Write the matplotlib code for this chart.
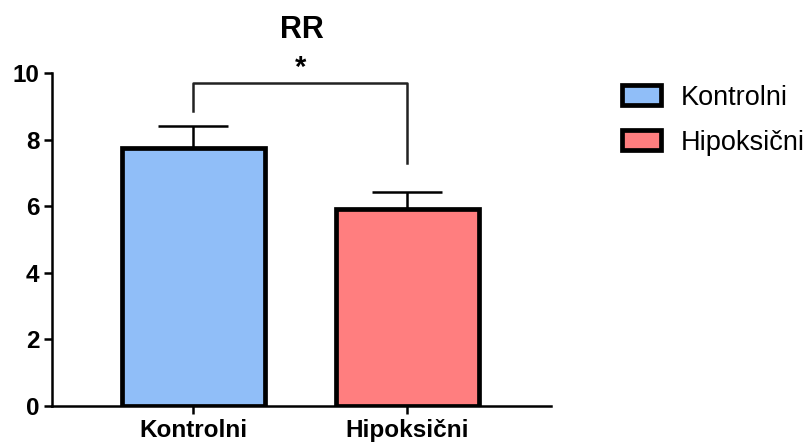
import matplotlib
matplotlib.use("Agg")
import matplotlib.pyplot as plt
from matplotlib.patches import Patch

plt.rcParams['font.family'] = ['Liberation Sans', 'DejaVu Sans']

categories = ["Kontrolni", "Hipoksični"]
means = [7.75, 5.92]
sems = [0.65, 0.5]
colors = ["#90BEF8", "#FF7E7F"]
title = "RR"
bracket_top = 9.7
bracket_left_bottom = 8.85
bracket_right_bottom = 7.3
sig_label = "*"

fig = plt.figure(figsize=(8.08, 4.47), dpi=100)
ax = fig.add_axes([0.0644, 0.0917, 0.6176, 0.745])

x = list(range(len(categories)))
ax.bar(x, means, width=0.668, color=colors, edgecolor="black", linewidth=3.4, zorder=2)
for xi, m, s in zip(x, means, sems):
    ax.errorbar([xi], [m], yerr=[[0], [s]], fmt="none", ecolor="black",
                elinewidth=1.8, capsize=25, capthick=1.8, zorder=1)

ax.plot([0, 0, 1, 1], [bracket_left_bottom, bracket_top, bracket_top, bracket_right_bottom],
        color="#222222", lw=1.8, clip_on=False)
ax.text(0.5, bracket_top + 0.02, sig_label, ha="center", va="bottom", fontsize=21,
        fontweight="bold")

ax.set_xlim(-0.659, 1.673)
ax.set_ylim(0, 10)
ax.set_yticks([0, 2, 4, 6, 8, 10])
ax.set_xticks(x)
ax.set_xticklabels(categories, fontsize=17.5, fontweight="bold")
for lab in ax.get_yticklabels():
    lab.set_fontsize(17.5)
    lab.set_fontweight("bold")
ax.spines['top'].set_visible(False)
ax.spines['right'].set_visible(False)
ax.spines['left'].set_linewidth(1.8)
ax.spines['bottom'].set_linewidth(1.8)
ax.tick_params(axis='both', direction='out', length=6, width=1.8, pad=3)
ax.set_title(title, fontsize=22, fontweight="bold", pad=25)

handles = [Patch(facecolor=c, edgecolor="black", linewidth=3.4, label=l)
           for c, l in zip(colors, categories)]
fig.legend(handles=handles, loc="upper left", bbox_to_anchor=(0.757, 0.835),
           frameon=False, fontsize=19.5, handlelength=1.44, handleheight=0.74,
           handletextpad=0.72, labelspacing=0.7, borderaxespad=0)

fig.savefig("out.png", dpi=100)
